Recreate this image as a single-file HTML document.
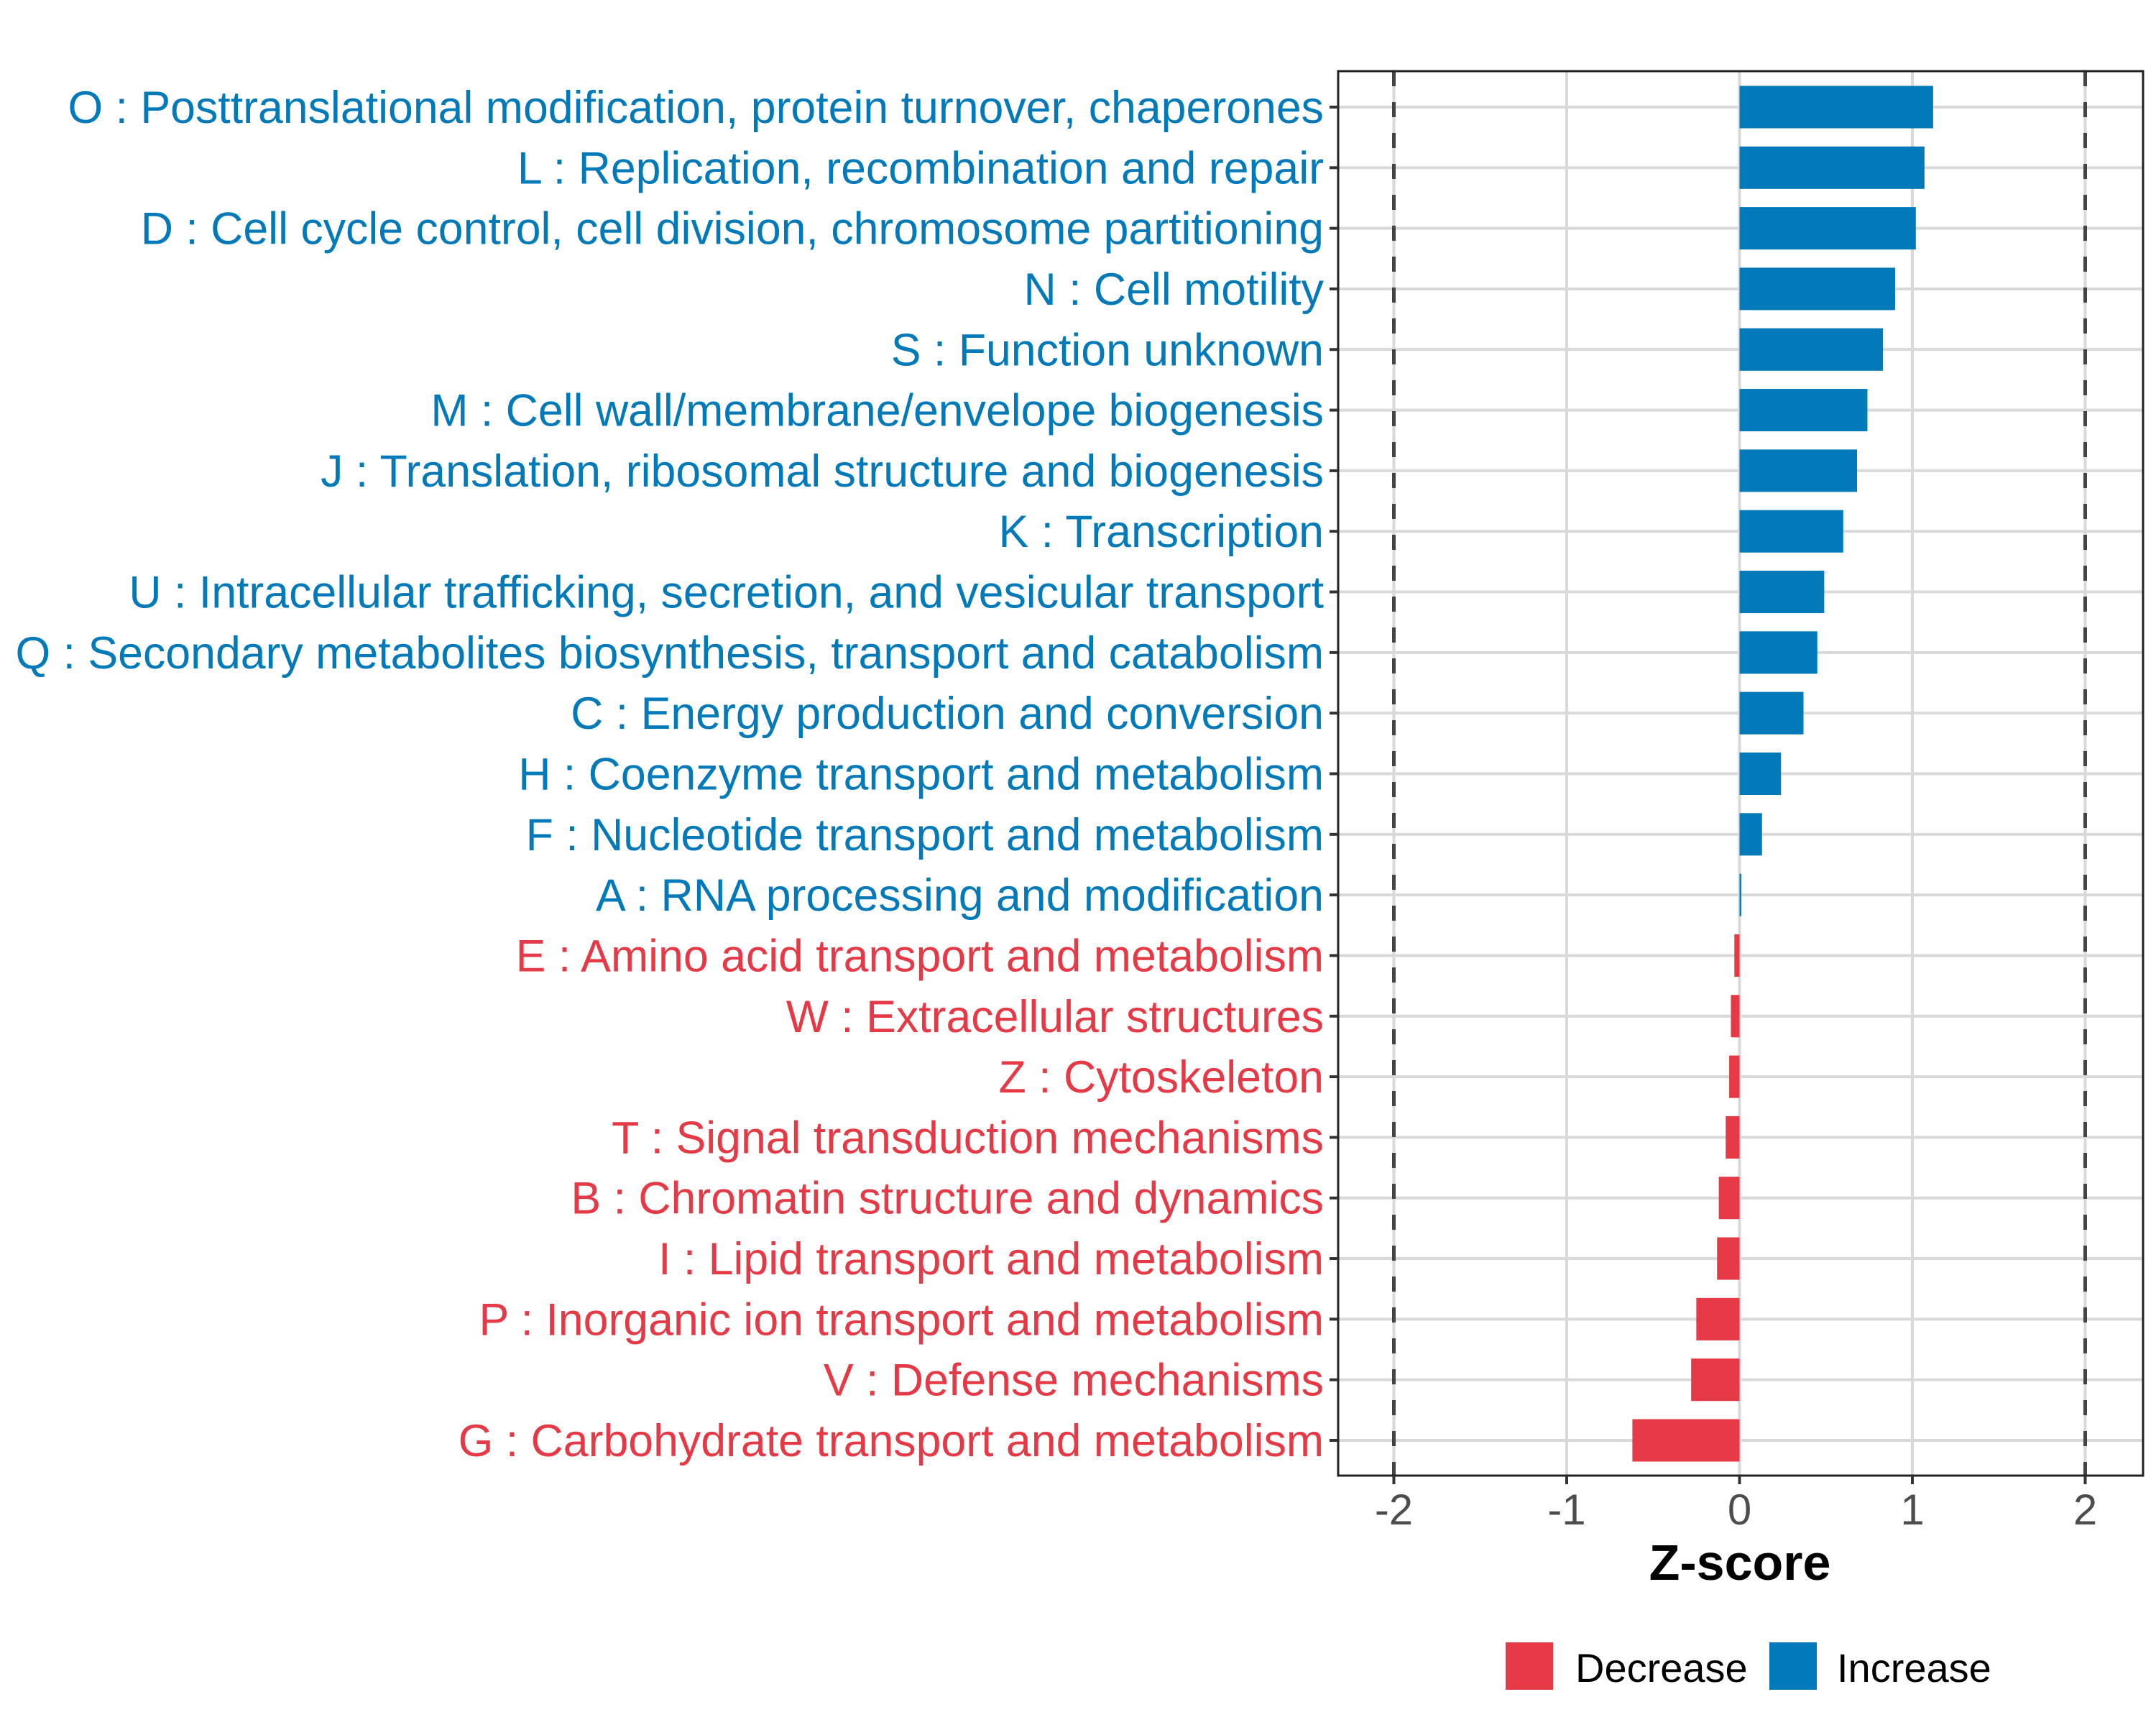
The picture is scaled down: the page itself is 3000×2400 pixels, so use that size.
<!DOCTYPE html>
<html><head><meta charset="utf-8"><style>
html,body{margin:0;padding:0;background:#fff;}
svg{display:block;}
</style></head><body>
<svg id="chart" width="3000" height="2400" viewBox="0 0 3000 2400" xmlns="http://www.w3.org/2000/svg" font-family="'Liberation Sans', sans-serif">
<rect x="0" y="0" width="3000" height="2400" fill="#fff"/>
<g id="grid"></g>
<g id="bars"></g>
<g id="refs"></g>
<rect x="1862" y="99" width="1120" height="1954" fill="none" stroke="#222" stroke-width="3"/>
<g id="yaxis"></g>
<g id="xaxis"></g>
<text x="2421" y="2198" text-anchor="middle" font-size="70" font-weight="bold" fill="#000">Z-score</text>
<g>
<rect x="2095" y="2285" width="66" height="66" fill="#E63946"/>
<text x="2192" y="2340" font-size="56" fill="#000">Decrease</text>
<rect x="2462" y="2285" width="66" height="66" fill="#0279B8"/>
<text x="2556" y="2340" font-size="56" fill="#000">Increase</text>
</g>
</svg>
<script>
const categories = ["O : Posttranslational modification, protein turnover, chaperones","L : Replication, recombination and repair","D : Cell cycle control, cell division, chromosome partitioning","N : Cell motility","S : Function unknown","M : Cell wall/membrane/envelope biogenesis","J : Translation, ribosomal structure and biogenesis","K : Transcription","U : Intracellular trafficking, secretion, and vesicular transport","Q : Secondary metabolites biosynthesis, transport and catabolism","C : Energy production and conversion","H : Coenzyme transport and metabolism","F : Nucleotide transport and metabolism","A : RNA processing and modification","E : Amino acid transport and metabolism","W : Extracellular structures","Z : Cytoskeleton","T : Signal transduction mechanisms","B : Chromatin structure and dynamics","I : Lipid transport and metabolism","P : Inorganic ion transport and metabolism","V : Defense mechanisms","G : Carbohydrate transport and metabolism"];
const zscores = [1.12,1.07,1.02,0.90,0.83,0.74,0.68,0.60,0.49,0.45,0.37,0.24,0.13,0.01,-0.03,-0.05,-0.06,-0.08,-0.12,-0.13,-0.25,-0.28,-0.62];
const xTicks = [-2,-1,0,1,2];
const xTickLabels = ["-2","-1","0","1","2"];
const refLines = [-2,2];

const NS="http://www.w3.org/2000/svg";
const PL=1862, PR=2982, PT=99, PB=2053;
const X0=2420.5, UNIT=240.5;
const xs = v => X0 + v*UNIT;
const ROW0=149, STEP=(2004-149)/22;
const ys = i => ROW0 + i*STEP;
const BLUE="#0279B8", RED="#E63946";
function mk(tag, attrs, parent){const e=document.createElementNS(NS,tag);for(const k in attrs)e.setAttribute(k,attrs[k]);parent.appendChild(e);return e;}
const grid=document.getElementById('grid'), bars=document.getElementById('bars'), refs=document.getElementById('refs'), yax=document.getElementById('yaxis'), xax=document.getElementById('xaxis');

xTicks.forEach((t,i)=>{
  const g=mk('line',{x1:xs(t),x2:xs(t),y1:PT,y2:PB,stroke:'#d9d9d9','stroke-width':4},grid);
  
  
  const tk=mk('line',{x1:xs(t),x2:xs(t),y1:PB,y2:PB+12,stroke:'#333','stroke-width':4},xax);
  
  
  const tl=mk('text',{x:xs(t),y:2121,'text-anchor':'middle','font-size':60,fill:'#4d4d4d'},xax);
  tl.textContent=xTickLabels[i];
  
  
});
categories.forEach((c,i)=>{
  const y=ys(i);
  const g=mk('line',{x1:PL,x2:PR,y1:y,y2:y,stroke:'#d9d9d9','stroke-width':4},grid);
  
  
  const v=zscores[i];
  const h=STEP*0.7;
  const x1=Math.min(xs(0),xs(v)), w=Math.max(Math.abs(xs(v)-xs(0)),1.5);
  const b=mk('rect',{x:x1,y:y-h/2,width:w,height:h,fill:v>=0?BLUE:RED},bars);
  
  
  const tk=mk('line',{x1:PL-12,x2:PL,y1:y,y2:y,stroke:'#333','stroke-width':4},yax);
  
  
  const tl=mk('text',{x:1842,y:y+22,'text-anchor':'end','font-size':58,fill:v>=0?BLUE:RED},yax);
  tl.textContent=c;
  
  
});
refLines.forEach(r=>{
  const l=mk('line',{x1:xs(r),x2:xs(r),y1:PT,y2:PB,stroke:'#444','stroke-width':5,'stroke-dasharray':'21 22'},refs);
  
  
});
const labels=yax.querySelectorAll('text');
const w0=labels[0].getComputedTextLength();
if(w0>0){const f=1748/w0;labels.forEach(t=>t.setAttribute('font-size',(58*f).toFixed(2)));}
</script>
</body></html>
